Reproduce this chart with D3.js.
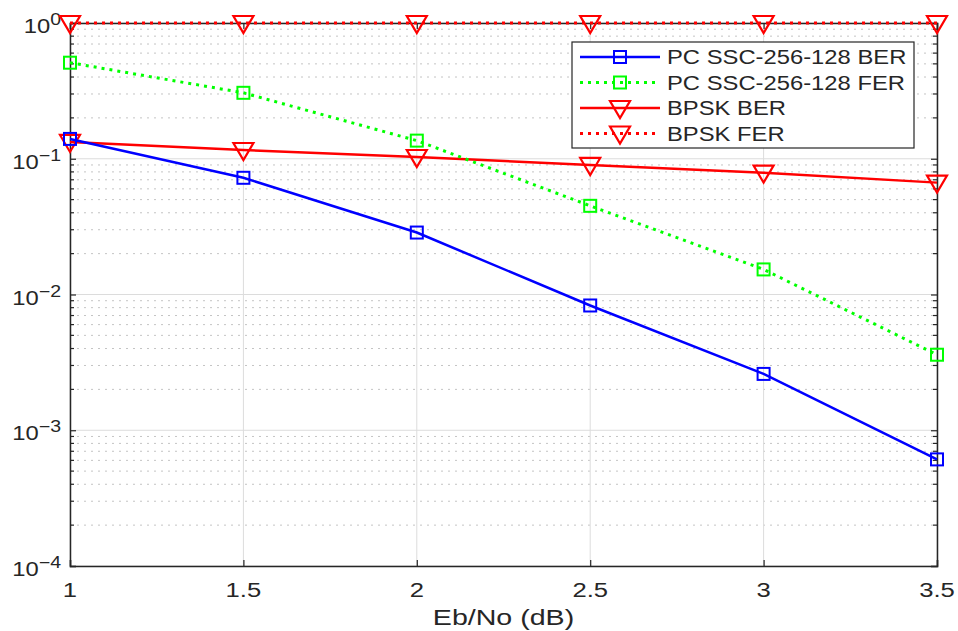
<!DOCTYPE html>
<html>
<head>
<meta charset="utf-8">
<script src="https://cdn.jsdelivr.net/npm/d3@7"></script>
<style>
  body { margin: 0; background: #fff; }
  text { font-family: "Liberation Sans", Arial, sans-serif; fill: #262626; }
</style>
</head>
<body>
<svg id="chart" width="958" height="631"></svg>
<script>
// Data
const ebno = [1, 1.5, 2, 2.5, 3, 3.5];
const pcBer = [0.140, 0.0724, 0.0286, 0.0083, 0.0026, 0.00061];
const pcFer = [0.51, 0.306, 0.136, 0.045, 0.0153, 0.0036];
const bpskBer = [0.133, 0.116, 0.103, 0.090, 0.079, 0.0667];
const bpskFer = [1, 1, 1, 1, 1, 1];
const xTicks = [1, 1.5, 2, 2.5, 3, 3.5];
const yDecades = [1e-4, 1e-3, 1e-2, 1e-1, 1];

const series = [
  { name: "PC SSC-256-128 BER", values: pcBer, color: "#0000ff", dash: null, marker: "square" },
  { name: "PC SSC-256-128 FER", values: pcFer, color: "#00ff00", dash: "3,5", marker: "square" },
  { name: "BPSK BER", values: bpskBer, color: "#ff0000", dash: null, marker: "triangle" },
  { name: "BPSK FER", values: bpskFer, color: "#ff0000", dash: "3,5", marker: "triangle" }
];

const margin = { left: 70, right: 21, top: 23, bottom: 65 };
const width = 958, height = 631;
const stretch = 1.22; // the original text looks wide
const svg = d3.select("#chart");

const x = d3.scaleLinear().domain([1, 3.5]).range([margin.left, width - margin.right]);
const y = d3.scaleLog().domain([1e-4, 1]).range([height - margin.bottom, margin.top]);

// helper for wide text
function wideText(g, tx, ty, size, anchor, sx) {
  return g.append("text")
    .attr("transform", `translate(${tx},${ty}) scale(${sx || stretch},1)`)
    .attr("font-size", size).attr("text-anchor", anchor || "start");
}

// Minor log ticks (2..9 in each decade)
const minor = [];
for (let e = -4; e < 0; e++) {
  for (let m = 2; m <= 9; m++) minor.push(m * Math.pow(10, e));
}

// Grid
const grid = svg.append("g");
grid.selectAll(".minor").data(minor).join("line")
  .attr("x1", x(1)).attr("x2", x(3.5))
  .attr("y1", d => y(d)).attr("y2", d => y(d))
  .attr("stroke", "#c4c4c4").attr("stroke-width", 1).attr("stroke-dasharray", "2,5");
grid.selectAll(".major").data(yDecades).join("line")
  .attr("x1", x(1)).attr("x2", x(3.5))
  .attr("y1", d => y(d)).attr("y2", d => y(d))
  .attr("stroke", "#dcdcdc").attr("stroke-width", 1);
grid.selectAll(".xg").data(xTicks).join("line")
  .attr("x1", d => x(d)).attr("x2", d => x(d))
  .attr("y1", y(1e-4)).attr("y2", y(1))
  .attr("stroke", "#dcdcdc").attr("stroke-width", 1);

// Axes (MATLAB style, ticks inside)
const axisColor = "#262626";
const axB = svg.append("g").attr("transform", `translate(0,${y(1e-4)})`)
  .call(d3.axisBottom(x).tickValues(xTicks).tickSize(-6).tickFormat(""));
const axT = svg.append("g").attr("transform", `translate(0,${y(1)})`)
  .call(d3.axisTop(x).tickValues(xTicks).tickSize(-6).tickFormat(""));
const axL = svg.append("g").attr("transform", `translate(${x(1)},0)`)
  .call(d3.axisLeft(y).tickValues(yDecades).tickSize(-6).tickFormat(""));
const axR = svg.append("g").attr("transform", `translate(${x(3.5)},0)`)
  .call(d3.axisRight(y).tickValues(yDecades).tickSize(-6).tickFormat(""));
[axB, axT, axL, axR].forEach(a => {
  a.select(".domain").attr("stroke", axisColor).attr("stroke-width", 1.5);
  a.selectAll(".tick line").attr("stroke", axisColor).attr("stroke-width", 1.2);
});

// minor ticks on left/right
svg.append("g").selectAll("line").data(minor).join("line")
  .attr("x1", x(1)).attr("x2", x(1) + 4)
  .attr("y1", d => y(d)).attr("y2", d => y(d))
  .attr("stroke", axisColor).attr("stroke-width", 1.2);
svg.append("g").selectAll("line").data(minor).join("line")
  .attr("x1", x(3.5)).attr("x2", x(3.5) - 4)
  .attr("y1", d => y(d)).attr("y2", d => y(d))
  .attr("stroke", axisColor).attr("stroke-width", 1.2);

// x tick labels
const labels = svg.append("g");
xTicks.forEach(t => {
  wideText(labels, x(t), 597, 21, "middle").text(d3.format("")(t));
});

// y tick labels 10^n
yDecades.forEach(d => {
  const t = wideText(labels, x(1) - 9, y(d) + 10, 19.5, "end");
  t.append("tspan").text("10");
  t.append("tspan").attr("dy", -8).attr("font-size", 16)
    .text(Math.round(Math.log10(d)).toString().replace("-", "\u2212"));
});

// x label
wideText(labels, (x(1) + x(3.5)) / 2, 625, 22, "middle", 1.3).text("Eb/No (dB)");

// markers
function drawMarker(g, type, color, cx, cy) {
  if (type === "square") {
    g.append("rect").attr("x", cx - 6).attr("y", cy - 6).attr("width", 12).attr("height", 12)
      .attr("fill", "none").attr("stroke", color).attr("stroke-width", 2);
  } else {
    g.append("path").attr("d", `M${cx - 10},${cy - 7} L${cx + 10},${cy - 7} L${cx},${cy + 10} Z`)
      .attr("fill", "none").attr("stroke", color).attr("stroke-width", 2.2);
  }
}

const line = d3.line().x(d => x(d[0])).y(d => y(d[1]));
// draw in reverse so blue is on top like the original
series.slice().reverse().forEach(s => {
  const pts = ebno.map((e, i) => [e, s.values[i]]);
  const g = svg.append("g");
  g.append("path").datum(pts).attr("d", line)
    .attr("fill", "none").attr("stroke", s.color).attr("stroke-width", s.dash ? 3 : 2.5)
    .attr("stroke-dasharray", s.dash);
  pts.forEach(p => drawMarker(g, s.marker, s.color, x(p[0]), y(p[1])));
});

// legend
const lg = svg.append("g").attr("transform", "translate(572,42)");
lg.append("rect").attr("width", 342).attr("height", 106)
  .attr("fill", "#fff").attr("stroke", axisColor).attr("stroke-width", 1.2);
series.forEach((s, i) => {
  const ly = 15 + i * 25.5;
  const row = lg.append("g");
  row.append("line").attr("x1", 8).attr("x2", 88).attr("y1", ly).attr("y2", ly)
    .attr("stroke", s.color).attr("stroke-width", s.dash ? 3 : 2.5).attr("stroke-dasharray", s.dash);
  drawMarker(row, s.marker, s.color, 48, ly);
  wideText(row, 95, ly + 7, 19.5).text(s.name);
});
</script>
</body>
</html>
